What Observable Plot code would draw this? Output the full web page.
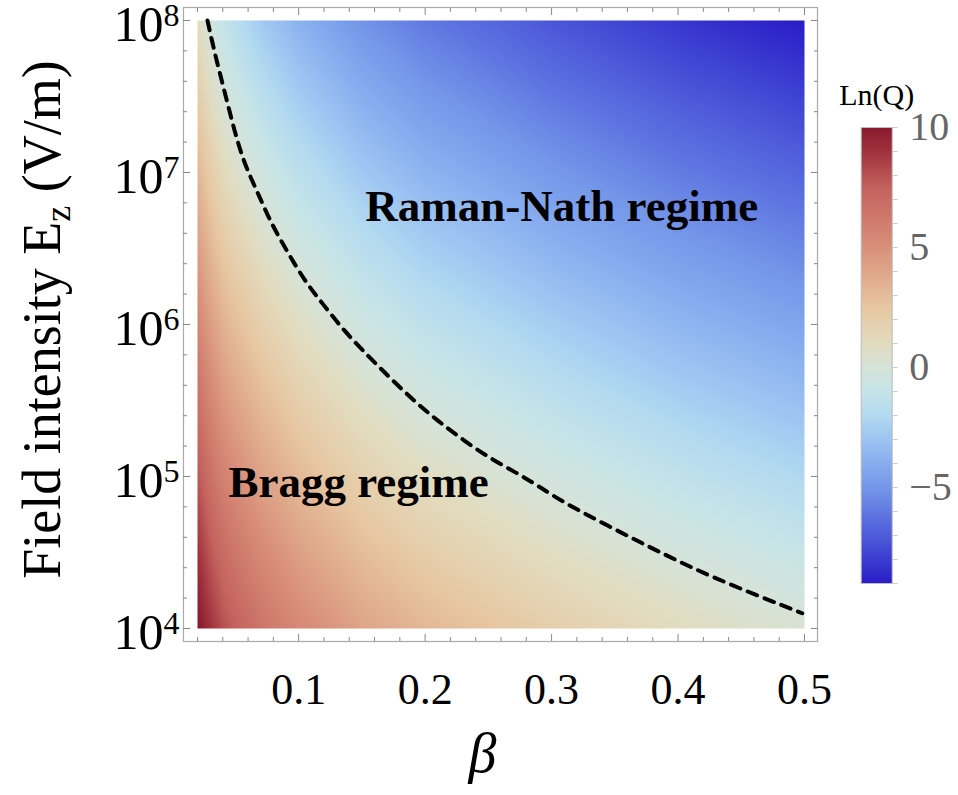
<!DOCTYPE html>
<html><head><meta charset="utf-8">
<script src="https://cdn.jsdelivr.net/npm/d3@7"></script>
<script src="https://cdn.jsdelivr.net/npm/@observablehq/plot@0.6"></script>
<style>
html,body{margin:0;padding:0;background:#fff;}
#wrap{position:relative;width:958px;height:795px;overflow:hidden;}
#main{position:absolute;left:0;top:0;}
#cbar{position:absolute;left:820px;top:0;}
</style></head>
<body><div id="wrap"><div id="main"></div><div id="cbar"></div></div>
<script>
// ---- data ----
const betaGrid = [0.02, 0.03, 0.04, 0.05, 0.07, 0.1, 0.15, 0.2, 0.25, 0.3, 0.35, 0.4, 0.45, 0.5];
const fieldGrid = [1e4, 1e5, 1e6, 1e7, 1e8];
const lnQ_E1e4 = [10.2, 9.0, 8.1, 7.5, 6.5, 5.4, 4.1, 3.2, 2.6, 2.0, 1.5, 1.0, 0.6, 0.2];
const lnQ_E1e5 = [7.9, 6.7, 5.8, 5.2, 4.2, 3.1, 1.8, 0.9, 0.3, -0.3, -0.8, -1.3, -1.7, -2.1];
const lnQ_E1e6 = [5.6, 4.4, 3.5, 2.9, 1.9, 0.8, -0.5, -1.4, -2.0, -2.6, -3.1, -3.6, -4.0, -4.4];
const lnQ_E1e7 = [3.3, 2.1, 1.2, 0.6, -0.4, -1.5, -2.8, -3.7, -4.3, -4.9, -5.4, -5.9, -6.3, -6.7];
const lnQ_E1e8 = [1.0, -0.2, -1.1, -1.7, -2.7, -3.8, -5.1, -6.0, -6.6, -7.2, -7.7, -8.2, -8.6, -9.0];

// Q = 1 boundary (dashed curve)
const boundaryBeta = [0.0279, 0.0331, 0.0408, 0.0487, 0.0566, 0.0676, 0.0779, 0.0913, 0.1056, 0.1190, 0.1356, 0.1545, 0.1727, 0.1909, 0.2098, 0.2304, 0.2517, 0.2730, 0.2888, 0.3094, 0.3441, 0.3781, 0.4121, 0.4468, 0.4982];
const boundaryE = [1.0e8, 6.35e7, 3.57e7, 1.95e7, 1.16e7, 7.38e6, 4.69e6, 2.98e6, 1.89e6, 1.37e6, 9.14e5, 6.25e5, 4.42e5, 3.16e5, 2.33e5, 1.73e5, 1.31e5, 1.05e5, 8.73e4, 6.75e4, 4.76e4, 3.41e4, 2.48e4, 1.86e4, 1.26e4];

const xMajorTicks = [0.1, 0.2, 0.3, 0.4, 0.5];
const xTickLabels = ["0.1", "0.2", "0.3", "0.4", "0.5"];
const xMinorTicks = [0.02, 0.04, 0.06, 0.08, 0.12, 0.14, 0.16, 0.18, 0.22, 0.24, 0.26, 0.28, 0.32, 0.34, 0.36, 0.38, 0.42, 0.44, 0.46, 0.48];
const yMajorTicks = [1e4, 1e5, 1e6, 1e7, 1e8];
const yTickExponents = ["4", "5", "6", "7", "8"];
const yMinorExponents = [4.2, 4.4, 4.6, 4.8, 5.2, 5.4, 5.6, 5.8, 6.2, 6.4, 6.6, 6.8, 7.2, 7.4, 7.6, 7.8];

const cbarStops = [-9, -8, -7, -6, -5, -4, -3, -2, -1, 0, 1, 2.5, 5, 7.5, 9, 10];
const cbarColors = ["#2a1bc7", "#3b3dd0", "#4e5cda", "#6179e2", "#7597e9", "#88adef", "#9dc4f2", "#b3daf0", "#c6e4e8", "#d6e3d9", "#e2dcbf", "#e7c7a2", "#d9907a", "#c4625e", "#a0323e", "#8a1a2f"];
const cbarLabelTicks = [-5, 0, 5, 10];
const cbarMinorTicks = [-9, -8, -7, -6, -5, -4, -3, -2, -1, 0, 1, 2, 3, 4, 5, 6, 7, 8, 9, 10];

const regimeLabels = ["Raman-Nath regime", "Bragg regime"];
const regimeBeta = [0.308, 0.1474];
const regimeE = [6.0e6, 9.06e4];

// ---- tables built from the arrays ----
const lnQRows = [lnQ_E1e4, lnQ_E1e5, lnQ_E1e6, lnQ_E1e7, lnQ_E1e8];
const cells = fieldGrid.flatMap((E, i) => betaGrid.map((b, j) => ({beta: b, E, q: lnQRows[i][j]})));
const boundary = boundaryBeta.map((b, i) => ({beta: b, E: boundaryE[i]}));
const yMinorTicks = yMinorExponents.map(e => Math.pow(10, e));
const yLabelRows = yMajorTicks.map((E, i) => ({E, text: "10^" + yTickExponents[i]}));

const serif = "'Liberation Serif', 'Times New Roman', Times, serif";
const colorScale = {type: "linear", domain: cbarStops, range: cbarColors, interpolate: "rgb", clamp: true};
const noLabel = () => "";

const main = Plot.plot({
  width: 830, height: 795,
  marginLeft: 183, marginRight: 13, marginTop: 7, marginBottom: 154,
  style: {fontFamily: serif, fontSize: "42px", color: "#000", background: "transparent", overflow: "visible"},
  x: {domain: [0.02, 0.5], insetLeft: 14, insetRight: 13},
  y: {type: "log", domain: [1e4, 1e8], insetTop: 13, insetBottom: 13},
  color: colorScale,
  marks: [
    Plot.raster(cells, {x: "beta", y: "E", fill: "q", interpolate: "barycentric",
      x1: betaGrid[0], x2: betaGrid[betaGrid.length - 1], y1: fieldGrid[0], y2: fieldGrid[fieldGrid.length - 1]}),
    Plot.line(boundary, {x: "beta", y: "E", stroke: "#000", strokeWidth: 4, strokeDasharray: "10 8", curve: "basis"}),
    Plot.text(regimeLabels, {x: (d, i) => regimeBeta[i], y: (d, i) => regimeE[i], text: d => d,
      fontWeight: "bold", fontSize: 45, textAnchor: "middle", fill: "#000"}),
    Plot.frame({stroke: "#aaa", strokeWidth: 1.2}),
    // frame ticks (inward)
    Plot.axisX(xMinorTicks, {anchor: "bottom", tickSize: -4, tickFormat: noLabel, stroke: "#888", label: null}),
    Plot.axisX(xMajorTicks, {anchor: "bottom", tickSize: -7, tickFormat: noLabel, stroke: "#888", label: null}),
    Plot.axisX(xMinorTicks, {anchor: "top", tickSize: -4, tickFormat: noLabel, stroke: "#888", label: null}),
    Plot.axisX(xMajorTicks, {anchor: "top", tickSize: -7, tickFormat: noLabel, stroke: "#888", label: null}),
    Plot.axisY(yMinorTicks, {anchor: "left", tickSize: -4, tickFormat: noLabel, stroke: "#888", label: null}),
    Plot.axisY(yMajorTicks, {anchor: "left", tickSize: -7, tickFormat: noLabel, stroke: "#888", label: null}),
    Plot.axisY(yMinorTicks, {anchor: "right", tickSize: -4, tickFormat: noLabel, stroke: "#888", label: null}),
    Plot.axisY(yMajorTicks, {anchor: "right", tickSize: -7, tickFormat: noLabel, stroke: "#888", label: null}),
    // tick labels
    Plot.axisX(xMajorTicks, {anchor: "bottom", tickSize: 0, tickPadding: 31, fontSize: 44,
      tickFormat: (d, i) => xTickLabels[i], label: null}),
    Plot.text(yLabelRows, {y: "E", text: "text", frameAnchor: "left", textAnchor: "end", lineAnchor: "middle",
      dx: -4, dy: 4, fontSize: 50, fill: "#000"}),
    // axis titles
    Plot.text(["β"], {frameAnchor: "bottom", textAnchor: "middle", dy: 130, dx: -18, fontSize: 56, fontStyle: "italic"}),
    Plot.text(["Field intensity E"], {frameAnchor: "left", textAnchor: "middle", rotate: -90, dx: -141, dy: -5, fontSize: 54})
  ]
});
document.getElementById("main").appendChild(main);

// superscripts on the y tick labels, subscript in the y title
d3.select(main).selectAll("text").each(function() {
  const t = d3.select(this);
  const s = t.text();
  if (s.startsWith("10^")) {
    const exp = s.slice(3);
    t.text("10");
    t.append("tspan").attr("dy", -15).attr("font-size", 32).text(exp);
  } else if (s === "Field intensity E") {
    t.append("tspan").attr("dy", 10).attr("font-size", 36).text("z");
    t.append("tspan").attr("dy", -10).text(" (V/m)");
  }
});

const cbar = Plot.plot({
  width: 138, height: 795,
  marginLeft: 40.7, marginRight: 66.3, marginTop: 127, marginBottom: 212,
  style: {fontFamily: serif, fontSize: "40px", color: "#666", background: "transparent", overflow: "visible"},
  x: {domain: [0, 1], axis: null},
  y: {domain: [cbarStops[0], cbarStops[cbarStops.length - 1]]},
  color: colorScale,
  marks: [
    Plot.raster({fill: (x, y) => y, x1: 0, x2: 1, y1: cbarStops[0], y2: cbarStops[cbarStops.length - 1]}),
    Plot.frame({stroke: "#bbb", strokeWidth: 1}),
    Plot.axisY(cbarMinorTicks, {anchor: "right", tickSize: 5, tickFormat: noLabel, stroke: "#ccc", label: null}),
    Plot.axisY(cbarLabelTicks, {anchor: "right", tickSize: 0, tickPadding: 17, fontSize: 40, fill: "#666", label: null}),
    Plot.text(["Ln(Q)"], {frameAnchor: "top", lineAnchor: "middle", dy: -32, fontSize: 30, fill: "#000"})
  ]
});
document.getElementById("cbar").appendChild(cbar);
</script>
</body></html>
